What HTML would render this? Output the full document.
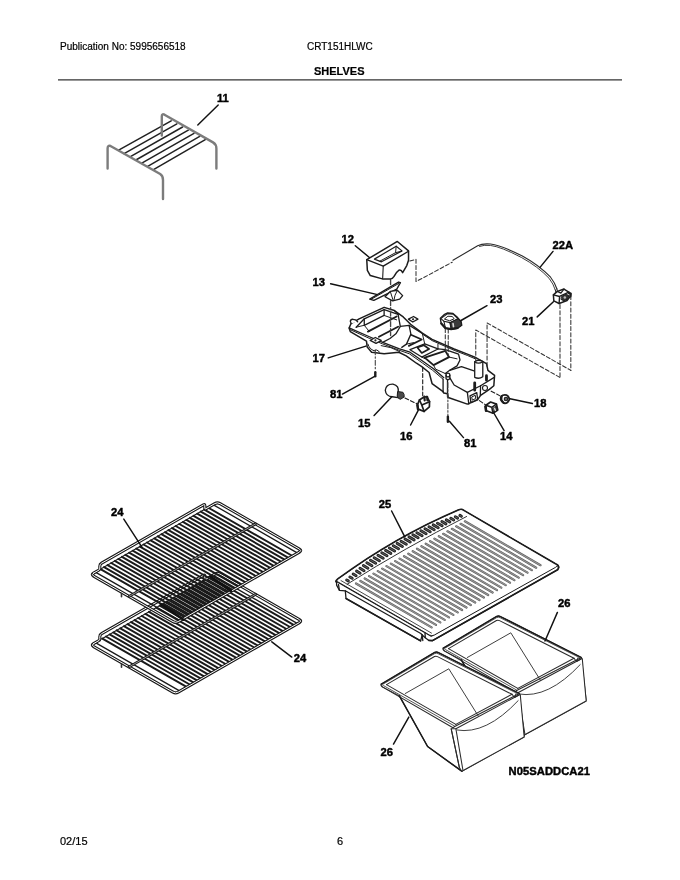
<!DOCTYPE html>
<html><head><meta charset="utf-8">
<style>
html,body{margin:0;padding:0;background:#fff;}
body{width:680px;height:880px;position:relative;overflow:hidden;font-family:"Liberation Sans",sans-serif;color:#1a1a1a;}
.t{position:absolute;white-space:nowrap;font-size:10px;line-height:13px;will-change:transform;color:#000;-webkit-text-stroke:0.2px #000;}
.b{font-weight:bold;font-size:11px;}
svg{position:absolute;left:0;top:0;will-change:transform;}
svg path,svg circle,svg ellipse,svg line,svg polyline,svg polygon,svg rect{vector-effect:non-scaling-stroke;}
svg text{font-family:"Liberation Sans",sans-serif;font-weight:bold;font-size:11.2px;fill:#000;stroke:#000;stroke-width:0.45px;stroke-linejoin:round;}
</style></head><body>
<div class="t" style="left:60px;top:40px;">Publication No: 5995656518</div>
<div class="t" style="left:307px;top:40px;">CRT151HLWC</div>
<div class="t b" style="left:314px;top:65px;">SHELVES</div>
<div class="t" style="left:60px;top:835px;font-size:11px;">02/15</div>
<div class="t" style="left:336.6px;top:835px;font-size:11px;">6</div>
<svg width="680" height="880" viewBox="0 0 680 880" fill="none" stroke="#222" stroke-width="1" stroke-linecap="round" stroke-linejoin="round">
<path d="M58 79.95H622" stroke="#333" stroke-width="1.3" stroke-linecap="butt"/>
<!-- ITEM11 -->
<g id="i11">
<g stroke="#222" stroke-width="1.5">
<path d="M118.2 150.4L171.2 120.8M124.1 153.6L176.9 123.9M130 156.8L182.6 127M135.9 160L188.3 130.2M141.8 163.2L194 133.3M147.7 166.4L199.7 136.4M153.5 169.7L205.3 139.6"/>
</g>
<g stroke="#7c7c7c" stroke-width="2.4">
<path d="M107.6 168.5V148.4Q107.6 145 110.5 146L160.2 174Q163 175.8 163 180V199"/>
<path d="M161.8 135.6V116.2Q161.8 113.4 164.5 114.7L213 142.4Q216.4 144.4 216.4 148.5V168.5"/>
</g>
<path d="M218.2 105L197.8 125" stroke="#111" stroke-width="1.45"/>
</g>
<!-- /ITEM11 -->
<!-- ITEM_LIGHT -->
<g id="light" stroke="#1c1c1c" stroke-width="1.3">
<!-- housing: zoom origin 340,300 scale 6.8 -->
<g transform="translate(340,300) scale(0.147059)">
<path fill="#fff" stroke-width="1.5" d="M62 190L75 160L130 128L300 50L370 72L430 115L480 165L560 225L626 268L776 333L866 368L926 393L996 433L1006 478L1051 513L1046 583L1016 608L956 648L936 678L866 708L736 663L731 638L706 633L701 623L626 568L606 493L556 453L520 430L450 380L400 355L300 365L215 355L185 320L180 280L70 215Z"/>
<!-- peg left -->
<path fill="#fff" d="M76 160L70 145Q72 130 88 131L105 135L120 148"/>
<!-- front rim -->
<path d="M62 190L200 250L290 288L400 330L476 355L566 418L636 468L706 528"/>
<path stroke-width="1" d="M70 202L198 260L288 298L398 340L472 366L560 428L630 478L700 538"/>
<!-- left cavity -->
<path d="M110 185L165 128L300 66L395 98"/>
<path d="M165 128L165 172L300 105L300 66"/>
<path stroke-width="1" d="M110 185L165 172L200 215M300 105L385 135"/>
<path stroke-width="1.9" d="M190 215L385 112"/>
<path stroke-width="1.9" d="M265 250L395 182"/>
<path d="M370 72L395 98L410 180L380 230L340 262L290 288"/>
<!-- tabs -->
<path fill="#fff" d="M465 130L500 112L530 130L495 150Z"/><circle cx="497" cy="131" r="3" fill="#222"/>
<path fill="#fff" d="M205 275L240 255L280 275L245 295Z"/><circle cx="241" cy="275" r="3" fill="#222"/>
<!-- bump under -->
<path stroke-width="1" d="M190 300Q200 335 232 345Q250 330 268 352"/>
<path stroke-width="1" d="M280 310Q350 318 405 350"/>
<!-- funnel -->
<path d="M410 180L470 172L560 228"/>
<path d="M470 172L482 232L452 300L420 322"/>
<path stroke-width="1.7" d="M482 236L556 268L468 312"/>
<path stroke-width="1" d="M452 300L500 290"/>
<!-- middle compartments -->
<path d="M476 338L576 298L666 333L556 388Z"/>
<path stroke-width="1.7" d="M526 323L571 308L606 333L556 360Z"/>
<path stroke-width="1" d="M560 228L576 298M666 300L666 333"/>
<path stroke-width="1" d="M556 388L576 398"/>
<path stroke-width="1.9" d="M576 392L716 346L741 388L636 443Z"/>
<path d="M666 333L716 338L806 368L816 408L796 448L746 478L716 500"/>
<path stroke-width="1" d="M636 443L650 470L716 500M741 388L796 400"/>
<path stroke-width="1" d="M560 232L626 276L776 342L866 377L920 400"/>
<!-- boss -->
<circle cx="734" cy="510" r="13" fill="#fff"/>
<path d="M721 512L721 536Q734 548 747 536L747 512"/>
<path d="M701 538L701 626M731 545L731 660"/>
<!-- bowl -->
<path d="M746 478L826 453L916 483"/>
<path d="M747 530L776 578L866 628L876 708"/>
<!-- right face -->
<path d="M866 628L956 583L1046 528M956 583L954 648"/>
<!-- post -->
<path fill="#fff" d="M916 420Q940 400 971 418L971 522Q945 540 916 526Z"/>
<path d="M916 420Q942 440 971 418"/>
<!-- screws -->
<path stroke-width="2.8" d="M916 563L916 613M996 515L996 545"/>
<!-- sockets -->
<path fill="#fff" d="M884 652L930 630L936 676L890 698Z"/><path stroke-width="1" d="M898 658L920 648L923 670L902 680Z"/>
<circle cx="986" cy="598" r="17" stroke-width="1.1"/>
</g>
</g>
<g id="light2" stroke="#1c1c1c" stroke-width="1.35">
<!-- items 12, 13 : zoom origin 320,225 scale 4.25 -->
<g transform="translate(320,225) scale(0.235294)">
<!-- dash-dot vertical through 12/13 into housing -->
<path stroke="#444" stroke-dasharray="5 2 1.5 2" d="M300 232L300 470"/>
<!-- dashed from 12 to cable -->
<path stroke-dasharray="4 2.2" stroke-width="1.05" stroke="#333" d="M382 153L408 146L408 240L440 224L562 158"/>
</g>
<!-- 23, cable, 21: zoom origin 440,225 scale 4.25 -->
<g transform="translate(440,225) scale(0.235294)">
<!-- cable -->
<path stroke-width="1.1" stroke="#2a2a2a" d="M55 150L160 88Q180 78 215 81Q260 86 350 132Q420 170 470 222Q488 245 497 272"/>
<path stroke-width="0.9" stroke="#2a2a2a" d="M168 91Q185 84 215 87Q258 92 346 138Q416 176 464 227Q482 250 490 276"/>
<!-- connector 21 -->
<path d="M497 272L500 290M490 276L494 292" stroke-width="1"/>
<!-- dashed verticals from 23 down -->
<path stroke-dasharray="4 2.2" stroke-width="1.05" stroke="#333" d="M22.5 440L22.5 545M35 442L35 556"/>
<!-- dashed right of 21 -->
<path stroke-dasharray="4 2.2" stroke-width="1.05" stroke="#333" d="M510 338L510 648M556 300L556 618"/>
<!-- dashed rectangle -->
<path stroke-dasharray="4 2.2" stroke-width="1.05" stroke="#333" d="M152 580L152 446L510 648M200 600L200 416L556 618"/>
</g>
<!-- lower small parts: zoom origin 370,365 scale 8.5 -->
<g transform="translate(370,365) scale(0.117647)">
<!-- left screw & dash -->
<path stroke-dasharray="5 2 1.5 2" stroke="#444" stroke-width="1.1" d="M45 -130L45 35"/>
<path stroke-width="2.4" d="M45 62L45 96"/>
<!-- bulb 15 -->
<path fill="#fff" d="M240 232Q250 175 195 162Q135 160 130 215Q135 268 190 270L238 278Z"/>
<path fill="#4a4a4a" stroke-width="1" d="M238 226L280 232Q295 250 290 272L258 292Q236 285 232 268Z"/>
<path stroke-dasharray="4 2.2" stroke-width="1.1" d="M297 280L400 330"/>
<!-- socket 16 -->
<path stroke-dasharray="4 2.2" stroke-width="1.1" d="M448 20L448 262"/>
<path fill="#fff" stroke-width="1.7" d="M405 335L420 297L452 277L482 268L506 310L505 355L460 395L410 375Z"/>
<path stroke-width="1.7" d="M420 297L440 340L506 312M440 340L460 395"/>
<path stroke-width="2.2" d="M462 268L465 300M486 270L488 300"/>
<path stroke-width="2.4" d="M402 340L408 376"/>
<!-- right screw -->
<path stroke-dasharray="5 2 1.5 2" stroke="#444" stroke-width="1.1" d="M662 150L662 438"/>
<path stroke-width="2.4" d="M662 440L662 482"/>
</g>
<!-- 14, 18: zoom origin 470,380 scale 8.5 -->
<g transform="translate(470,380) scale(0.117647)">
<path stroke-dasharray="4 2.2" stroke-width="1.1" d="M180 95L255 135M80 175L130 210"/>
<!-- 18 -->
<path fill="#fff" stroke-width="1.8" d="M264 142Q280 122 310 128Q336 142 334 168Q322 196 296 198Q266 188 260 160Z"/>
<circle cx="306" cy="162" r="15" fill="#666" stroke-width="1.1"/>
<path stroke-width="2" d="M270 135L266 165L285 195"/>
<!-- 14 -->
<path fill="#fff" stroke-width="1.7" d="M135 215L175 187L225 205L236 255L195 282L140 262Z"/>
<path stroke-width="1.5" d="M135 215L185 232L225 205M185 232L195 282"/>
<path fill="#444" stroke-width="1" d="M196 240L224 222L230 252L202 270Z"/>
<path stroke-width="2.4" d="M130 225L136 262"/>
<path stroke-width="1.4" stroke="#ddd" d="M208 240L216 258"/>
</g>
<!-- 12,13 at zoom origin 355,235 scale 8.5 -->
<g transform="translate(355,235) scale(0.117647)">
<path fill="#fff" stroke-width="1.5" d="M100 210L360 55L455 135L455 215L440 260L405 320Q392 292 372 300Q352 312 332 352Q318 375 300 375L240 375L130 345L105 300Z"/>
<path stroke-width="1.4" d="M100 210L240 265L455 138"/>
<path stroke-width="1.1" d="M240 265L235 372"/>
<path stroke-width="1.2" d="M165 205L350 95L400 135L225 228Z"/>
<path stroke-width="1" d="M350 95L345 150L395 138M345 150L212 222"/>
<!-- 13 -->
<path fill="#fff" stroke-width="1.4" d="M125 545L370 400L386 405L355 460L160 556Z"/>
<path stroke-width="1" d="M140 545L372 412"/>
<path fill="#fff" stroke-width="1.3" d="M255 525L300 480L360 470L405 515L380 545L320 560Z"/>
<path stroke-width="1" d="M300 480L325 558M360 470Q335 510 330 558"/>
</g>
<!-- 23 at zoom origin 430,300 scale 8.5 -->
<g transform="translate(430,300) scale(0.117647)">
<path fill="#fff" stroke-width="1.4" d="M88 155L120 125L150 110L195 115L235 150L265 185L270 215L235 240L180 250L130 240L95 200Z"/>
<path fill="#fff" stroke-width="1.1" d="M92 158L150 116L196 120L238 160L172 192L118 180Z"/>
<path stroke-width="1" d="M125 160L152 138L190 140L205 160L170 175Z"/>
<path fill="#3a3a3a" stroke-width="1" d="M172 192L238 160L264 188L268 214L236 236L182 246Z"/>
<path stroke-width="1.6" stroke="#ddd" d="M196 200L200 228"/>
<path stroke-width="2.2" d="M96 200L131 238L180 248L235 238"/>
<path stroke-width="1.1" d="M118 180L131 238M172 192L182 246"/>
</g>
<!-- 21 at zoom origin 530,270 scale 11.33 -->
<g transform="translate(530,270) scale(0.088235)">
<path fill="#fff" stroke-width="1.5" d="M265 282L310 242L385 216L440 250L460 272L455 302L420 346L330 380L270 350Z"/>
<path stroke-width="1.4" d="M265 282L335 300L440 250M335 300L330 380"/>
<path stroke-width="1.2" d="M310 242L350 262L385 216"/>
<path fill="#333" stroke-width="1" d="M360 300L410 275L440 290L430 325L385 350L355 335Z"/>
<circle cx="395" cy="312" r="14" fill="#bbb" stroke="none"/>
<path stroke-width="2.2" d="M440 262L462 268L458 300"/>
</g>
<!-- leaders -->
<g stroke="#111" stroke-width="1.45">
<path d="M355.3 245.7L369.4 257.5"/>
<path d="M330.6 283.8L376.5 294.4"/>
<path d="M328.2 357.9L365.9 346.1"/>
<path d="M553 251.4L540 267.4"/>
<path d="M487 305.7L461 320.5"/>
<path d="M537.2 316.9L553.4 301.8"/>
<path d="M342.4 394.1L374.7 376.4"/>
<path d="M374.1 415.6L391.8 396.8"/>
<path d="M410.6 425L418.2 410.3"/>
<path d="M449.4 421.2L463.5 437.6"/>
<path d="M532.4 403.5L510 398.8"/>
<path d="M504.1 430.6L494.1 413.5"/>
</g>
</g>
<!-- /ITEM_LIGHT -->
<!-- ITEM24 -->
<g id="i24" fill="none">
<path stroke="#1a1a1a" stroke-width="1.95" d="M102.4 638.6L187.0 687.1M106.0 636.5L190.6 685.0M109.6 634.4L194.2 682.9M113.2 632.4L197.8 680.9M116.7 630.3L201.3 678.8M120.3 628.3L204.9 676.8M123.9 626.2L208.5 674.7M127.5 624.2L212.1 672.7M131.1 622.1L215.7 670.6M134.6 620.1L219.2 668.6M138.2 618.0L222.8 666.5M141.8 616.0L226.4 664.5M145.4 613.9L230.0 662.4M149.0 611.8L233.6 660.3M152.6 609.8L237.2 658.3M156.1 607.7L240.7 656.2M159.7 605.7L244.3 654.2M163.3 603.6L247.9 652.1M166.9 601.6L251.5 650.1M170.5 599.5L255.1 648.0M174.0 597.5L258.6 646.0M177.6 595.4L262.2 643.9M181.2 593.4L265.8 641.9M184.8 591.3L269.4 639.8M188.4 589.3L273.0 637.8M191.9 587.2L276.5 635.7M195.5 585.1L280.1 633.6M199.1 583.1L283.7 631.6M202.7 581.0L287.3 629.5M206.3 579.0L290.9 627.5M209.9 576.9L294.5 625.4"/>
<path stroke="#1a1a1a" stroke-width="1.3" d="M95.4 642.6L180.0 691.1M213.0 575.1L297.6 623.6"/>
<path stroke="#1a1a1a" stroke-width="3.1" d="M93.6 643.6L99.0 640.5Q99.8 640.0 99.8 638.5L99.8 636.7Q99.8 634.7 101.6 633.7L203.5 575.3Q204.8 574.6 204.8 576.1L204.8 578.4Q204.8 579.9 205.8 579.3L214.8 574.1Q217.4 572.6 220.0 574.1L299.4 619.6Q302.0 621.1 299.4 622.6L178.2 692.1Q175.6 693.6 173.0 692.1L93.6 646.6Q91.0 645.1 93.6 643.6Z"/>
<path stroke="#fff" stroke-width="1.0" d="M93.6 643.6L99.0 640.5Q99.8 640.0 99.8 638.5L99.8 636.7Q99.8 634.7 101.6 633.7L203.5 575.3Q204.8 574.6 204.8 576.1L204.8 578.4Q204.8 579.9 205.8 579.3L214.8 574.1Q217.4 572.6 220.0 574.1L299.4 619.6Q302.0 621.1 299.4 622.6L178.2 692.1Q175.6 693.6 173.0 692.1L93.6 646.6Q91.0 645.1 93.6 643.6Z"/>
<path stroke="#1a1a1a" stroke-width="1.1" d="M101.6 639.0L203.9 580.3"/>
<path stroke="#1a1a1a" stroke-width="2.8" d="M129.1 666.9L255.5 594.4"/>
<path stroke="#ccc" stroke-width="0.7" d="M129.1 666.9L255.5 594.4"/>
<path stroke="#333" stroke-width="1.6" d="M121.5 664.1l0 3.2"/>
<path stroke="#1a1a1a" stroke-width="1.95" d="M100.5 569.2L185.1 617.7M104.1 567.1L188.7 615.6M107.6 565.1L192.2 613.6M111.2 563.0L195.8 611.5M114.8 560.9L199.4 609.4M118.4 558.9L203.0 607.4M122.0 556.8L206.6 605.3M125.5 554.8L210.1 603.3M129.1 552.7L213.7 601.2M132.7 550.7L217.3 599.2M136.3 548.6L220.9 597.1M139.9 546.6L224.5 595.1M143.5 544.5L228.1 593.0M147.0 542.5L231.6 591.0M150.6 540.4L235.2 588.9M154.2 538.4L238.8 586.9M157.8 536.3L242.4 584.8M161.4 534.2L246.0 582.7M164.9 532.2L249.5 580.7M168.5 530.1L253.1 578.6M172.1 528.1L256.7 576.6M175.7 526.0L260.3 574.5M179.3 524.0L263.9 572.5M182.9 521.9L267.5 570.4M186.4 519.9L271.0 568.4M190.0 517.8L274.6 566.3M193.6 515.8L278.2 564.3M197.2 513.7L281.8 562.2M200.8 511.6L285.4 560.1M204.3 509.6L288.9 558.1M207.9 507.5L292.5 556.0"/>
<path stroke="#1a1a1a" stroke-width="1.3" d="M95.4 572.1L180.0 620.6M213.0 504.6L297.6 553.1"/>
<path stroke="#1a1a1a" stroke-width="3.1" d="M93.6 573.1L99.0 570.0Q99.8 569.5 99.8 568.0L99.8 566.2Q99.8 564.2 101.6 563.2L203.5 504.8Q204.8 504.1 204.8 505.6L204.8 507.9Q204.8 509.4 205.8 508.8L214.8 503.6Q217.4 502.1 220.0 503.6L299.4 549.1Q302.0 550.6 299.4 552.1L178.2 621.6Q175.6 623.1 173.0 621.6L93.6 576.1Q91.0 574.6 93.6 573.1Z"/>
<path stroke="#fff" stroke-width="1.0" d="M93.6 573.1L99.0 570.0Q99.8 569.5 99.8 568.0L99.8 566.2Q99.8 564.2 101.6 563.2L203.5 504.8Q204.8 504.1 204.8 505.6L204.8 507.9Q204.8 509.4 205.8 508.8L214.8 503.6Q217.4 502.1 220.0 503.6L299.4 549.1Q302.0 550.6 299.4 552.1L178.2 621.6Q175.6 623.1 173.0 621.6L93.6 576.1Q91.0 574.6 93.6 573.1Z"/>
<path stroke="#1a1a1a" stroke-width="1.1" d="M101.6 568.5L203.9 509.8"/>
<path stroke="#1a1a1a" stroke-width="2.8" d="M129.1 596.4L255.5 523.9"/>
<path stroke="#ccc" stroke-width="0.7" d="M129.1 596.4L255.5 523.9"/>
<path stroke="#333" stroke-width="1.6" d="M121.5 593.6l0 3.2"/>
<path stroke="#111" stroke-width="2.6" d="M160.9 604.3L183.5 619.7M210.3 576.5L230.9 590.9"/>
<g stroke="#111" stroke-width="1.45"><path d="M123.8 519.1L142.4 547.9"/><path d="M291.8 657.1L271.8 641.8"/></g>
</g>
<!-- /ITEM24 -->
<!-- ITEM25 -->
<g id="i25" stroke="#1c1c1c" stroke-width="1.3" fill="none">
<path fill="#fff" d="M336.6 581.4L336.6 585.1L339.4 590.3L345.3 590.8L346 598.5L420.6 640.9L422.2 635L425.3 637.8L428.8 640.4L432.5 640.6L557.6 569.8Q559.8 566 557.1 564.7L431.2 636.2Z"/>
<path fill="#fff" stroke-width="1.0" d="M338.1 578.7Q394.7 537.1 458.8 509.7Q461.8 508.6 464.3 510.6L555.1 563.5Q559.1 565.3 555.6 567.3L434.4 635.0Q431.9 636.5 429.4 635.0L338.6 582.3Q335.1 581.1 338.1 578.7Z"/>
<path stroke-width="1.6" d="M336.1 581.9Q335.1 581.1 338.1 578.7Q394.7 537.1 458.8 509.7Q461.8 508.6 464.3 510.6L555.1 563.5Q559.1 565.3 558.3 566.7"/>
<path stroke-width="0.8" d="M341.0 580.6L431.5 633.1"/>
<path stroke="#222" stroke-width="3.0" d="M346.7 580.0L348.3 580.9M349.9 577.0L352.2 578.3M353.2 574.0L356.1 575.7M356.6 571.1L360.1 573.2M360.0 568.3L364.0 570.7M363.4 565.5L367.9 568.2M366.9 562.8L371.9 565.7M370.5 560.2L375.7 563.2M374.2 557.7L379.4 560.7M378.0 555.2L383.2 558.2M381.8 552.8L387.0 555.8M385.6 550.4L390.8 553.4M389.4 548.0L394.6 551.0M393.3 545.7L398.5 548.7M397.2 543.4L402.4 546.5M401.1 541.2L406.3 544.2M405.0 539.0L410.2 542.0M409.0 536.9L414.1 539.9M412.9 534.8L418.1 537.8M416.9 532.7L422.1 535.7M420.9 530.7L426.1 533.7M425.0 528.7L430.2 531.7M429.0 526.8L434.2 529.8M433.2 524.9L438.2 527.8M437.5 523.2L442.1 525.8M441.9 521.5L445.9 523.9M446.3 519.9L449.8 521.9M450.8 518.3L453.7 520.0M455.3 516.8L457.6 518.1M459.9 515.4L461.4 516.3"/>
<path stroke="#707070" stroke-width="0.8" d="M346.7 580.0L348.3 580.9M349.9 577.0L352.2 578.3M353.2 574.0L356.1 575.7M356.6 571.1L360.1 573.2M360.0 568.3L364.0 570.7M363.4 565.5L367.9 568.2M366.9 562.8L371.9 565.7M370.5 560.2L375.7 563.2M374.2 557.7L379.4 560.7M378.0 555.2L383.2 558.2M381.8 552.8L387.0 555.8M385.6 550.4L390.8 553.4M389.4 548.0L394.6 551.0M393.3 545.7L398.5 548.7M397.2 543.4L402.4 546.5M401.1 541.2L406.3 544.2M405.0 539.0L410.2 542.0M409.0 536.9L414.1 539.9M412.9 534.8L418.1 537.8M416.9 532.7L422.1 535.7M420.9 530.7L426.1 533.7M425.0 528.7L430.2 531.7M429.0 526.8L434.2 529.8M433.2 524.9L438.2 527.8M437.5 523.2L442.1 525.8M441.9 521.5L445.9 523.9M446.3 519.9L449.8 521.9M450.8 518.3L453.7 520.0M455.3 516.8L457.6 518.1M459.9 515.4L461.4 516.3"/>
<path stroke-width="0.9" d="M347.2 584.2Q405.4 547.5 466.6 516.5"/>
<path stroke="#5a5a5a" stroke-width="2.2" d="M356.0 583.5L431.6 627.4M360.4 581.0L436.0 624.9M364.7 578.5L440.3 622.4M369.1 576.1L444.7 619.9M373.5 573.6L449.0 617.4M377.8 571.1L453.4 614.9M382.2 568.6L457.7 612.4M386.5 566.1L462.1 610.0M390.9 563.6L466.5 607.5M395.2 561.1L470.8 605.0M399.6 558.6L475.2 602.5M404.0 556.2L479.5 600.0M408.3 553.7L483.9 597.5M412.7 551.2L488.2 595.0M417.0 548.7L492.6 592.5M421.4 546.2L497.0 590.1M425.7 543.7L501.3 587.6M430.1 541.2L505.7 585.1M434.4 538.7L510.0 582.6M438.8 536.2L514.4 580.1M443.2 533.8L518.7 577.6M447.5 531.3L523.1 575.1M451.9 528.8L527.5 572.6M456.2 526.3L531.8 570.1M460.6 523.8L536.2 567.7M464.9 521.3L540.5 565.2"/>
<path stroke="#959595" stroke-width="1.2" d="M356.0 583.5L431.6 627.4M360.4 581.0L436.0 624.9M364.7 578.5L440.3 622.4M369.1 576.1L444.7 619.9M373.5 573.6L449.0 617.4M377.8 571.1L453.4 614.9M382.2 568.6L457.7 612.4M386.5 566.1L462.1 610.0M390.9 563.6L466.5 607.5M395.2 561.1L470.8 605.0M399.6 558.6L475.2 602.5M404.0 556.2L479.5 600.0M408.3 553.7L483.9 597.5M412.7 551.2L488.2 595.0M417.0 548.7L492.6 592.5M421.4 546.2L497.0 590.1M425.7 543.7L501.3 587.6M430.1 541.2L505.7 585.1M434.4 538.7L510.0 582.6M438.8 536.2L514.4 580.1M443.2 533.8L518.7 577.6M447.5 531.3L523.1 575.1M451.9 528.8L527.5 572.6M456.2 526.3L531.8 570.1M460.6 523.8L536.2 567.7M464.9 521.3L540.5 565.2"/>
<path d="M345.3 590.8L420.8 633.5L422.2 635M339.4 590.3L338.5 584.5"/>
<path d="M422.2 635L422.8 640.5M425.3 637.8L425 633"/>
<path stroke-width="1.6" d="M428.8 640.4L432.5 640.6L557.6 569.8Q559.6 567 558.3 566.7"/>
<path stroke-width="1.5" d="M346 598.5L420.6 640.9"/>
<path stroke="#111" stroke-width="1.45" d="M391.6 511L404.8 536.9"/>
</g>
<!-- /ITEM25 -->
<!-- ITEM26 -->
<g id="i26" stroke="#2a2a2a" stroke-width="1.05" fill="none">
<g transform="translate(62.0,-36.0)">
<path fill="#fff" d="M381.3 684.1L434.7 652.4Q436.5 651.6 438.5 652.6L519.4 693.5L524.1 735.9L524.1 737L461.8 771.2L427.6 746.5L399.4 695.9L382.3 686.9Q380.3 685.4 381.3 684.1Z"/>
<path stroke-width="1.4" stroke="#1a1a1a" d="M381.3 684.1L434.7 652.4Q436.5 651.6 438.5 652.6L519.4 693.5"/>
<path d="M386.5 684.6L434.5 656.5Q436 655.8 437.5 656.6L512 694.3"/>
<path stroke-width="0.8" d="M382.6 684.4L434.7 653.6Q436.4 652.8 438.3 653.8L518 693.9"/>
<path d="M381.3 684.1L382.3 686.9L453 727.7L454.7 726.5"/>
<path d="M386.5 684.6L455.8 724.4"/>
<path stroke-width="0.8" d="M383.5 685.6L454.5 726"/>
<path d="M455.8 724.4L512 694.3M454.7 726.5L519.4 693.5"/>
<path stroke-width="0.9" d="M405.3 693.5L448.8 668.8L478.2 715.9"/>
<path stroke-width="1.5" stroke="#1a1a1a" d="M399.4 695.9L427.6 746.5L461.8 771.2"/>
<path fill="#fff" d="M451.2 728.8L455.9 728.8L519.4 694.7Q520.6 694 520.4 696L524.1 735.9L524.1 737L461.8 771.2L459.4 767.6Z"/>
<path d="M455.9 728.8L462.9 770M459.4 767.6L451.2 728.8"/>
<path stroke-width="0.9" d="M457 730Q486 735 518.2 700.6"/>
<path d="M512 694.3L514.5 697.5L519.4 694.7M516 693.9L514.5 697.5"/>
</g>
<g transform="translate(0.0,0.0)">
<path fill="#fff" d="M381.3 684.1L434.7 652.4Q436.5 651.6 438.5 652.6L519.4 693.5L524.1 735.9L524.1 737L461.8 771.2L427.6 746.5L399.4 695.9L382.3 686.9Q380.3 685.4 381.3 684.1Z"/>
<path stroke-width="1.4" stroke="#1a1a1a" d="M381.3 684.1L434.7 652.4Q436.5 651.6 438.5 652.6L519.4 693.5"/>
<path d="M386.5 684.6L434.5 656.5Q436 655.8 437.5 656.6L512 694.3"/>
<path stroke-width="0.8" d="M382.6 684.4L434.7 653.6Q436.4 652.8 438.3 653.8L518 693.9"/>
<path d="M381.3 684.1L382.3 686.9L453 727.7L454.7 726.5"/>
<path d="M386.5 684.6L455.8 724.4"/>
<path stroke-width="0.8" d="M383.5 685.6L454.5 726"/>
<path d="M455.8 724.4L512 694.3M454.7 726.5L519.4 693.5"/>
<path stroke-width="0.9" d="M405.3 693.5L448.8 668.8L478.2 715.9"/>
<path stroke-width="1.5" stroke="#1a1a1a" d="M399.4 695.9L427.6 746.5L461.8 771.2"/>
<path fill="#fff" d="M451.2 728.8L455.9 728.8L519.4 694.7Q520.6 694 520.4 696L524.1 735.9L524.1 737L461.8 771.2L459.4 767.6Z"/>
<path d="M455.9 728.8L462.9 770M459.4 767.6L451.2 728.8"/>
<path stroke-width="0.9" d="M457 730Q486 735 518.2 700.6"/>
<path d="M512 694.3L514.5 697.5L519.4 694.7M516 693.9L514.5 697.5"/>
</g>
<path stroke="#111" stroke-width="1.45" d="M557.4 612.4L545 641M393.5 744.1L408.8 717.1"/>
</g>
<!-- /ITEM26 -->
<g>
<text x="217" y="102">11</text>
<text x="341.5" y="242.8">12</text>
<text x="312.6" y="286.4">13</text>
<text x="312.6" y="362">17</text>
<text x="552.5" y="249.0">22A</text>
<text x="490" y="303.3">23</text>
<text x="522" y="325.3">21</text>
<text x="330" y="398">81</text>
<text x="358" y="427">15</text>
<text x="400" y="440">16</text>
<text x="464" y="447">81</text>
<text x="534" y="407.3">18</text>
<text x="500" y="440.3">14</text>
<text x="111" y="516">24</text>
<text x="293.8" y="662.4">24</text>
<text x="378.7" y="507.8">25</text>
<text x="558" y="607">26</text>
<text x="380.5" y="756">26</text>
<text x="508.5" y="775.3" textLength="81.5">N05SADDCA21</text>
</g>
</svg>
</body></html>
